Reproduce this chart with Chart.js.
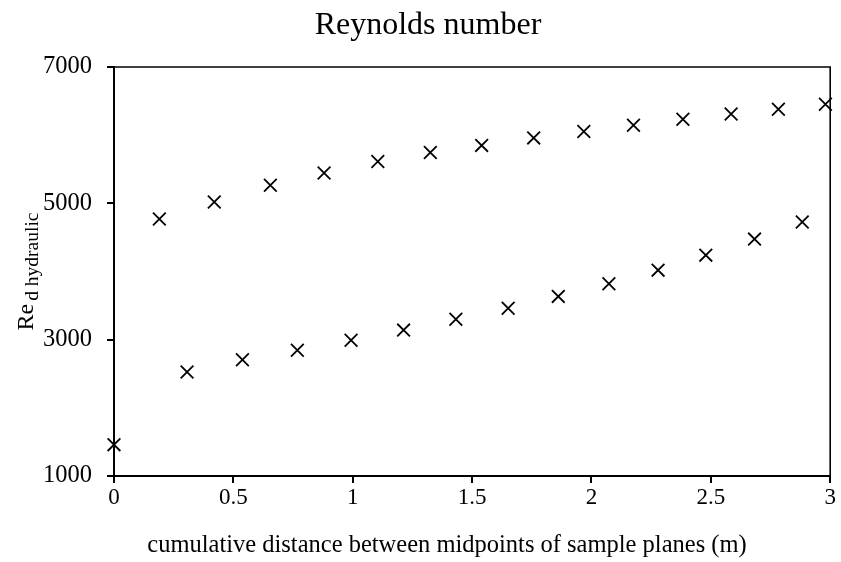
<!DOCTYPE html>
<html>
<head>
<meta charset="utf-8">
<script src="https://cdn.jsdelivr.net/npm/chart.js@4/dist/chart.umd.min.js"></script>
<style>
  html, body { margin: 0; padding: 0; background: #fff; }
  #wrap { width: 841px; height: 562px; }
</style>
</head>
<body>
<div id="wrap"><canvas id="chart"></canvas></div>
<script>
const upperX = [0.19, 0.42, 0.655, 0.88, 1.105, 1.325, 1.54, 1.758, 1.968, 2.176, 2.383, 2.585, 2.783, 2.98]
const upperRe = [4770, 5020, 5265, 5445, 5615, 5745, 5850, 5960, 6055, 6145, 6235, 6310, 6380, 6455]
const lowerX = [0, 0.306, 0.538, 0.768, 0.993, 1.213, 1.432, 1.651, 1.861, 2.073, 2.279, 2.479, 2.683, 2.883]
const lowerRe = [1460, 2525, 2705, 2845, 2990, 3140, 3300, 3460, 3635, 3820, 4020, 4240, 4475, 4725]
const xTicks = [0, 0.5, 1, 1.5, 2, 2.5, 3]
const yTicks = [1000, 3000, 5000, 7000]

const serif = "'Liberation Serif', 'Times New Roman', serif"
const chartTitle = "Reynolds number"
const xTitle = "cumulative distance between midpoints of sample planes (m)"

function toPoints(xs, ys) {
  return xs.map((x, i) => ({ x: x, y: ys[i] }))
}

// frame round the plot area, titles and the Re_d hydraulic label
const framePlugin = {
  id: "frame",
  afterDraw(chart) {
    const { ctx, chartArea } = chart
    ctx.save()
    ctx.strokeStyle = "#000"
    ctx.lineWidth = 1.6
    ctx.beginPath()
    ctx.moveTo(chartArea.left, chartArea.top)
    ctx.lineTo(chartArea.right, chartArea.top)
    ctx.lineTo(chartArea.right, chartArea.bottom)
    ctx.stroke()

    ctx.fillStyle = "#000"
    ctx.textBaseline = "alphabetic"
    ctx.textAlign = "center"
    ctx.font = "32px " + serif
    ctx.fillText(chartTitle, 428, 34)
    ctx.font = "24.5px " + serif
    ctx.fillText(xTitle, 447, 552)

    const mainFont = "24px " + serif
    const subFont = "19.5px " + serif
    ctx.font = mainFont
    const reW = ctx.measureText("Re").width
    ctx.font = subFont
    const subW = ctx.measureText("d hydraulic").width
    const total = reW + 3 + subW
    const cy = (chartArea.top + chartArea.bottom) / 2
    ctx.translate(33, cy + total / 2)
    ctx.rotate(-Math.PI / 2)
    ctx.textAlign = "left"
    ctx.font = mainFont
    ctx.fillText("Re", 0, 0)
    ctx.font = subFont
    ctx.fillText("d hydraulic", reW + 3, 5)
    ctx.restore()
  }
}

new Chart(document.getElementById("chart"), {
  type: "scatter",
  data: {
    datasets: [{
      label: "upper",
      data: toPoints(upperX, upperRe),
      pointStyle: "crossRot",
      pointRadius: 9,
      pointHoverRadius: 9,
      borderColor: "#000",
      backgroundColor: "#000",
      pointBorderWidth: 1.8,
      clip: false
    }, {
      label: "lower",
      data: toPoints(lowerX, lowerRe),
      pointStyle: "crossRot",
      pointRadius: 9,
      pointHoverRadius: 9,
      borderColor: "#000",
      backgroundColor: "#000",
      pointBorderWidth: 1.8,
      clip: false
    }]
  },
  options: {
    responsive: true,
    maintainAspectRatio: false,
    animation: false,
    layout: { padding: { left: 0, right: 10, top: 67, bottom: 0 } },
    plugins: {
      legend: { display: false },
      tooltip: { enabled: false },
      title: { display: false }
    },
    scales: {
      x: {
        type: "linear",
        min: 0,
        max: 3,
        afterBuildTicks: (axis) => { axis.ticks = xTicks.map(v => ({ value: v })) },
        afterFit: (axis) => {
          axis.height = 86
          axis.paddingLeft = 0
          axis.paddingRight = 0
        },
        border: { display: true, color: "#000", width: 2 },
        grid: { display: true, drawOnChartArea: false, drawTicks: true, tickLength: 7, color: "#000", lineWidth: 2 },
        ticks: {
          color: "#000", padding: 1, maxRotation: 0,
          font: { family: serif, size: 23 },
          callback: (v) => String(v)
        }
      },
      y: {
        type: "linear",
        min: 1000,
        max: 7000,
        afterBuildTicks: (axis) => { axis.ticks = yTicks.map(v => ({ value: v })) },
        afterFit: (axis) => {
          axis.width = 114
          axis.paddingTop = 0
          axis.paddingBottom = 0
        },
        border: { display: true, color: "#000", width: 2 },
        grid: { display: true, drawOnChartArea: false, drawTicks: true, tickLength: 7, color: "#000", lineWidth: 2 },
        ticks: {
          color: "#000", padding: 15,
          font: { family: serif, size: 24.5 },
          callback: (v) => String(v)
        }
      }
    }
  },
  plugins: [framePlugin]
})
</script>
</body>
</html>
